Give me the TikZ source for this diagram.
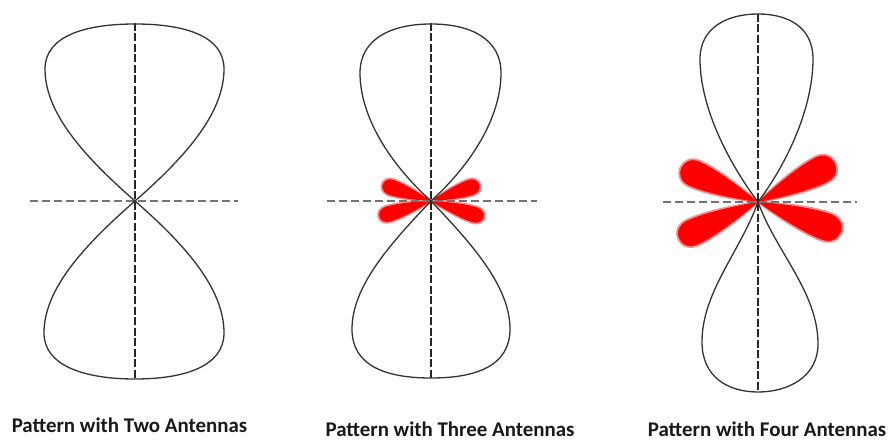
\documentclass[tikz,border=0pt]{standalone}
\usepackage{fontspec}
\setmainfont{Carlito}
\usetikzlibrary{positioning}

\begin{document}
\begin{tikzpicture}[
  x=1pt, y=-1pt,
  lobe/.style={
    draw=black!80,
    line width=1.3pt
  },
  vaxis/.style={
    draw=black!85,
    line width=1.1pt,
    dash pattern=on 8pt off 2.5pt
  },
  haxis/.style={
    draw=black!55,
    line width=1.9pt,
    dash pattern=on 8pt off 4pt
  },
  petalfill/.style={
    fill=red,
    draw=red!45,
    line width=1.8pt
  },
  petal/.pic={
    \path[petalfill] (0,0) .. controls (0.25,0.5) and (0.6,1) .. (0.82,1)
      .. controls (1.06,1) and (1.06,-1) .. (0.82,-1)
      .. controls (0.6,-1) and (0.25,-0.5) .. cycle;
    \fill[red] (0,0) .. controls (0.25,0.45) and (0.6,0.9) .. (0.82,0.9)
      .. controls (1.0,0.9) and (1.0,-0.9) .. (0.82,-0.9)
      .. controls (0.6,-0.9) and (0.25,-0.45) .. cycle;
  },
  captext/.style={
    font=\fontsize{20.9}{24}\selectfont\bfseries,
    text=black!90,
    anchor=base,
    inner sep=0pt
  }
]
\useasboundingbox (0,0) rectangle (889,441);

% Pattern centres
\coordinate (c1) at (135,201);
\coordinate (c2) at (431,201);
\coordinate (c3) at (758,202);

% Side lobes, three antennas
\pic[rotate=19, xscale=52, yscale=8.5] at (c2) {petal};
\pic[rotate=-17.5, xscale=56, yscale=8.5] at (c2) {petal};
\pic[rotate=161, xscale=52, yscale=8.5] at (c2) {petal};
\pic[rotate=197, xscale=55, yscale=8.5] at (c2) {petal};

% Side lobes, four antennas
\pic[rotate=27, xscale=87, yscale=14.5] at (c3) {petal};
\pic[rotate=-20, xscale=89, yscale=14.5] at (c3) {petal};
\pic[rotate=156, xscale=85, yscale=14] at (c3) {petal};
\pic[rotate=205, xscale=88, yscale=14] at (c3) {petal};

% Axes
\draw[vaxis] (135,23) -- (135,378);
\draw[haxis] (30,201) -- (238,201);
\draw[vaxis] (431,23) -- (431,378);
\draw[haxis] (327,201) -- (537,201);
\draw[vaxis] (758,14) -- (758,392);
\draw[haxis] (663,202) -- (857,202);

% Main lobes, two antennas
\begin{scope}[shift={(c1)}]
\draw[lobe] (0,0) .. controls (55,-48) and (89,-90) .. (89,-132)
  .. controls (89,-165) and (50,-177) .. (0,-177)
  .. controls (-50,-177) and (-90,-165) .. (-90,-132)
  .. controls (-90,-90) and (-55,-48) .. (0,0)
  .. controls (-55,48) and (-91,90) .. (-91,132)
  .. controls (-91,165) and (-50,178) .. (0,178)
  .. controls (50,178) and (89,165) .. (89,132)
  .. controls (89,90) and (55,48) .. (0,0);
\end{scope}

% Main lobes, three antennas
\begin{scope}[shift={(c2)}]
\draw[lobe] (0,0) .. controls (42,-38) and (70,-85) .. (70,-128)
  .. controls (70,-162) and (40,-177) .. (0,-177)
  .. controls (-40,-177) and (-71,-162) .. (-71,-128)
  .. controls (-71,-85) and (-42,-38) .. (0,0)
  .. controls (-40,42) and (-79,85) .. (-79,128)
  .. controls (-79,165) and (-45,177) .. (0,177)
  .. controls (45,177) and (79,165) .. (79,128)
  .. controls (79,85) and (40,42) .. (0,0);
\end{scope}

% Main lobes, four antennas
\begin{scope}[shift={(c3)}]
\draw[lobe] (0,0) .. controls (30,-40) and (55,-95) .. (55,-143)
  .. controls (55,-175) and (30,-188) .. (0,-188)
  .. controls (-30,-188) and (-58,-175) .. (-58,-143)
  .. controls (-58,-95) and (-30,-40) .. (0,0)
  .. controls (-18,50) and (-56,90) .. (-56,140)
  .. controls (-56,175) and (-30,190) .. (0,190)
  .. controls (30,190) and (60,175) .. (60,142)
  .. controls (60,90) and (18,50) .. (0,0);
\end{scope}

% Captions
\node[captext] (cap1) at (129.5,432) {Pattern with Two Antennas};
\node[captext] (cap2) at (450,436) {Pattern with Three Antennas};
\node[captext] (cap3) at (767,436) {Pattern with Four Antennas};

\end{tikzpicture}
\end{document}
